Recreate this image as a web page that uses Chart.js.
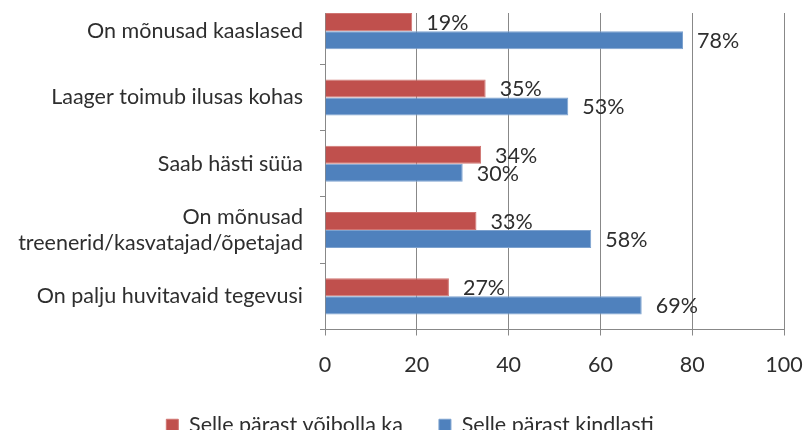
<!DOCTYPE html>
<html>
<head>
<meta charset="utf-8">
<script src="https://cdn.jsdelivr.net/npm/chart.js@4"></script>
<style>
  html, body { margin: 0; padding: 0; background: #fff; overflow: hidden; }
  #wrap { position: absolute; top: 13px; left: 0; width: 803px; height: 417px; overflow: hidden; }
  #box { position: absolute; top: -15px; left: 0; width: 820px; height: 448px; }
</style>
</head>
<body>
<div id="wrap"><div id="box"><canvas id="chart"></canvas></div></div>
<script>
// <![CDATA[
var categories = [
    "On mõnusad kaaslased",
    "Laager toimub ilusas kohas",
    "Saab hästi süüa",
    ["On mõnusad", "treenerid/kasvatajad/õpetajad"],
    "On palju huvitavaid tegevusi"
];
var seriesNames = ["Selle pärast võibolla ka", "Selle pärast kindlasti"];
var maybeValues = [19, 35, 34, 33, 27];
var surelyValues = [78, 53, 30, 58, 69];
var xTicks = [0, 20, 40, 60, 80, 100];

var textColor = "#2e2e2e";
var fontFamily = "Lato, 'DejaVu Sans', sans-serif";
var fontSize = 21.5;

// percent labels right of each bar
var valueLabels = {
    id: 'valueLabels',
    afterDatasetsDraw: function(chart) {
        var ctx = chart.ctx;
        ctx.save();
        ctx.font = fontSize + "px " + fontFamily;
        ctx.fillStyle = textColor;
        ctx.textAlign = "left";
        ctx.textBaseline = "middle";
        chart.data.datasets.forEach(function(ds, di) {
            chart.getDatasetMeta(di).data.forEach(function(bar, i) {
                ctx.fillText(ds.data[i] + "%", bar.x + 14, bar.y + 1);
            });
        });
        ctx.restore();
    }
};

function readChart() {
    var ctx = document.getElementById("chart").getContext("2d");
    new Chart(ctx, {
        type: 'bar',
        data: {
            labels: categories,
            datasets: [
                {
                    label: seriesNames[0],
                    data: maybeValues,
                    backgroundColor: "#C0504D",
                    borderColor: "#D07572",
                    borderWidth: 1,
                    categoryPercentage: 0.545,
                    barPercentage: 1
                },
                {
                    label: seriesNames[1],
                    data: surelyValues,
                    backgroundColor: "#4F81BD",
                    borderColor: "#7DA2CF",
                    borderWidth: 1,
                    categoryPercentage: 0.545,
                    barPercentage: 1
                }
            ]
        },
        options: {
            indexAxis: 'y',
            responsive: true,
            maintainAspectRatio: false,
            animation: false,
            layout: { padding: 0 },
            plugins: {
                tooltip: { enabled: false },
                legend: {
                    position: 'bottom',
                    labels: {
                        color: textColor,
                        font: { family: fontFamily, size: fontSize },
                        boxWidth: 12,
                        boxHeight: 12,
                        padding: 36
                    }
                }
            },
            scales: {
                x: {
                    min: 0,
                    max: 100,
                    afterBuildTicks: function(scale) {
                        scale.ticks = xTicks.map(function(v) { return { value: v }; });
                    },
                    grid: { color: "#888888", tickLength: 6, drawTicks: true },
                    border: { color: "#888888" },
                    ticks: {
                        color: textColor,
                        font: { family: fontFamily, size: fontSize },
                        padding: 17,
                        maxRotation: 0
                    },
                    afterFit: function(scale) {
                        scale.height = 49;
                        scale.paddingLeft = 0;
                        scale.paddingRight = 36;
                    }
                },
                y: {
                    grid: { display: true, drawOnChartArea: false, color: "#888888", tickLength: 5, offset: true },
                    border: { color: "#888888" },
                    ticks: {
                        color: textColor,
                        font: { family: fontFamily, size: fontSize, lineHeight: 1.2 },
                        padding: 17
                    },
                    afterFit: function(scale) {
                        scale.width = 325;
                        scale.paddingTop = 0;
                        scale.paddingBottom = 0;
                    }
                }
            }
        },
        plugins: [valueLabels]
    });
}
window.addEventListener('load', readChart, false);
// ]]>
</script>
</body>
</html>
